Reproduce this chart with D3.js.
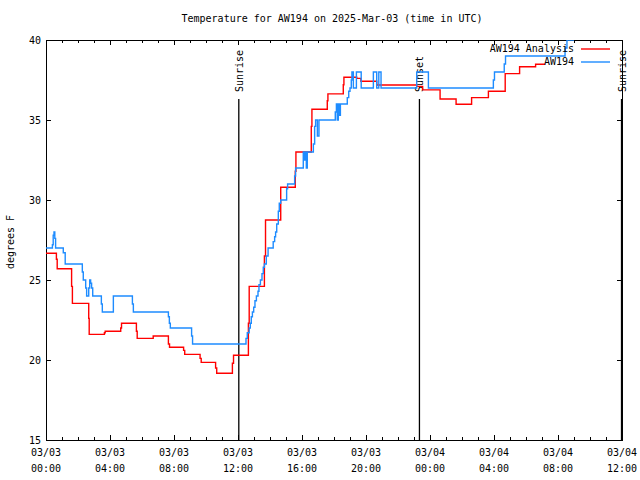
<!DOCTYPE html>
<html>
<head>
<meta charset="utf-8">
<script src="https://cdn.jsdelivr.net/npm/d3@7"></script>
<style>
  html, body { margin: 0; padding: 0; background: #fff; }
  svg text { font-family: "DejaVu Sans Mono", monospace; font-size: 10px; fill: #000; }
</style>
</head>
<body>
<svg id="chart" width="640" height="480"></svg>
<script>
// ---- data (hours since 2025-03-03 00:00 UTC, degrees F) ----
const analysisHours = [0, 0.65, 0.7, 1.6, 1.65, 2.67, 2.7, 3.65, 3.7, 4.67, 4.72, 5.65, 5.7, 6.7,
  7.65, 7.72, 8.6, 8.67, 9.63, 9.7, 10.6, 10.67, 11.65, 11.72, 12.65, 12.7, 13.65, 13.72,
  14.67, 15.58, 15.62, 16.58, 16.62, 17.58, 17.62, 18.58, 18.62, 19.42, 19.68, 20.67,
  23.17, 23.54, 24.63, 25.63, 26.6, 27.65, 28.7, 29.6, 30.6, 31.2];
const analysisTemps = [26.67, 26.3, 25.7, 24.6, 23.54, 22.6, 21.6, 21.7, 21.8, 22.0, 22.3, 21.8, 21.35, 21.5,
  21.0, 20.8, 20.6, 20.35, 20.1, 19.85, 19.5, 19.17, 19.8, 20.3, 22.3, 24.6, 26.5, 28.75,
  30.8, 31.8, 33.0, 34.6, 35.67, 36.2, 36.63, 37.2, 37.67, 37.6, 37.42, 37.19,
  37.1, 36.88, 36.31, 35.98, 36.4, 36.8, 37.9, 38.33, 38.48, 38.48];

const obsHours = [0, 0.4, 0.45, 0.5, 0.55, 0.6, 1.08, 1.2, 2.27, 2.33, 2.48, 2.54, 2.67, 2.73, 2.79,
  2.85, 2.92, 3.46, 3.52, 4.21, 5.4, 5.46, 7.65, 7.71, 7.77, 9.1, 9.16,
  12.5, 12.58, 12.7, 12.77, 12.83, 12.9, 12.98, 13.06, 13.15, 13.25, 13.31, 13.4, 13.5, 13.58,
  13.65, 13.77, 13.88, 14.2, 14.29, 14.35, 14.42, 14.52, 14.58, 14.67, 15.04, 15.1, 15.54, 15.6,
  16.08, 16.15, 16.21, 16.27, 16.33, 16.71, 16.79, 16.85, 16.96, 17.06, 18.08, 18.15, 18.2, 18.27,
  18.33, 18.4, 18.83, 18.92, 19.0, 19.08, 19.12, 19.21, 19.4, 19.7, 20.46, 20.67, 20.8, 20.94,
  23.17, 23.9, 27.96, 28.03, 28.64, 28.72, 32.44, 32.56, 33.0];
const obsTemps = [27, 27.2, 27.8, 28, 27.6, 27, 26.7, 26, 25.5, 25, 24.5, 24, 24.5, 25, 24.8,
  24.5, 24, 23.5, 23, 24, 23.5, 23, 22.7, 22.3, 22, 21.5, 21,
  21.35, 21.7, 22, 22.3, 22.7, 23, 23.3, 23.7, 24, 24.3, 24.7, 25, 25.4, 25.8,
  26, 26.5, 27, 27.4, 27.7, 28, 28.5, 29.3, 29.8, 30, 30.7, 31, 31.5, 32,
  33, 32.5, 33, 32, 33, 33.5, 34.6, 35, 34, 35, 35.5, 36, 35, 36,
  35.3, 36, 36.4, 36.8, 37, 37.5, 38, 37, 38, 37, 38, 37, 38, 37,
  38, 37, 37.5, 38, 38.5, 39, 39.5, 40, 40];

const eventNames = ["Sunrise", "Sunset", "Sunrise"];
const eventHours = [12.05, 23.34, 35.97];

const xTickHours = [0, 4, 8, 12, 16, 20, 24, 28, 32, 36];
const xTickDates = ["03/03", "03/03", "03/03", "03/03", "03/03", "03/03", "03/04", "03/04", "03/04", "03/04"];
const xTickTimes = ["00:00", "04:00", "08:00", "12:00", "16:00", "20:00", "00:00", "04:00", "08:00", "12:00"];
const yTickValues = [15, 20, 25, 30, 35, 40];

const seriesNames = ["AW194 Analysis", "AW194"];
const seriesColors = ["#ff0000", "#1e8cff"];

// ---- layout ----
const svg = d3.select("#chart");
const L = 46, R = 622, T = 40, B = 440;

const x = d3.scaleLinear().domain([0, 36]).range([L, R]);
const y = d3.scaleLinear().domain([15, 40]).range([B, T]);

// title
svg.append("text").attr("x", 332).attr("y", 19).attr("text-anchor", "middle")
  .attr("dominant-baseline", "middle")
  .text("Temperature for AW194 on 2025-Mar-03 (time in UTC)");

// y label
svg.append("text").attr("transform", "translate(11,242) rotate(-90)")
  .attr("text-anchor", "middle").attr("dominant-baseline", "middle").text("degrees F");

// clip
svg.append("clipPath").attr("id", "clip").append("rect")
  .attr("x", L).attr("y", T).attr("width", R - L).attr("height", B - T);

const minorHours = d3.range(0, 37, 1);

// axes (ticks inward)
svg.append("g").attr("transform", `translate(0,${B})`)
  .call(d3.axisBottom(x).tickValues(minorHours).tickSize(-3).tickFormat("").tickSizeOuter(0));
svg.append("g").attr("transform", `translate(0,${B})`)
  .call(d3.axisBottom(x).tickValues(xTickHours).tickSize(-5).tickFormat("").tickSizeOuter(0));
svg.append("g").attr("transform", `translate(0,${T})`)
  .call(d3.axisTop(x).tickValues(minorHours).tickSize(-3).tickFormat("").tickSizeOuter(0));
svg.append("g").attr("transform", `translate(0,${T})`)
  .call(d3.axisTop(x).tickValues(xTickHours).tickSize(-5).tickFormat("").tickSizeOuter(0));
svg.append("g").attr("transform", `translate(${L},0)`)
  .call(d3.axisLeft(y).tickValues(yTickValues).tickSize(-5).tickFormat("").tickSizeOuter(0));
svg.append("g").attr("transform", `translate(${R},0)`)
  .call(d3.axisRight(y).tickValues(yTickValues).tickSize(-5).tickFormat("").tickSizeOuter(0));

svg.selectAll(".domain").remove();
svg.selectAll(".tick line").attr("stroke", "#000").attr("shape-rendering", "crispEdges");

// frame
svg.append("rect").attr("x", L).attr("y", T).attr("width", R - L).attr("height", B - T)
  .attr("fill", "none").attr("stroke", "#000").attr("stroke-width", 1)
  .attr("shape-rendering", "crispEdges");

// y tick labels
svg.append("g").selectAll("text").data(yTickValues).join("text")
  .attr("x", L - 5).attr("y", d => y(d) + 1)
  .attr("text-anchor", "end").attr("dominant-baseline", "middle").text(d => d);

// x tick labels (two lines)
const xl = svg.append("g").selectAll("g").data(xTickHours).join("g");
xl.append("text").attr("x", d => x(d)).attr("y", 453).attr("text-anchor", "middle")
  .attr("dominant-baseline", "middle").text((d, i) => xTickDates[i]);
xl.append("text").attr("x", d => x(d)).attr("y", 469).attr("text-anchor", "middle")
  .attr("dominant-baseline", "middle").text((d, i) => xTickTimes[i]);

// events (sunrise/sunset)
eventHours.forEach((h, i) => {
  svg.append("line").attr("x1", x(h)).attr("x2", x(h)).attr("y1", 99).attr("y2", B)
    .attr("stroke", "#000").attr("stroke-width", 1.3);
  svg.append("text").attr("transform", `translate(${x(h) + 1},92) rotate(-90)`)
    .attr("text-anchor", "start").attr("dominant-baseline", "middle").text(eventNames[i]);
});

// series
const line = d3.line().x(d => x(d[0])).y(d => y(d[1])).curve(d3.curveStepAfter);
const analysis = analysisHours.map((h, i) => [h, analysisTemps[i]]);
const obs = obsHours.map((h, i) => [h, obsTemps[i]]);

const plot = svg.append("g").attr("clip-path", "url(#clip)");
plot.append("path").datum(analysis).attr("d", line).attr("fill", "none")
  .attr("stroke", seriesColors[0]).attr("stroke-width", 1.4);
plot.append("path").datum(obs).attr("d", line).attr("fill", "none")
  .attr("stroke", seriesColors[1]).attr("stroke-width", 1.4);

// legend
const legY = [49, 62];
seriesNames.forEach((n, i) => {
  svg.append("text").attr("x", 574).attr("y", legY[i]).attr("text-anchor", "end")
    .attr("dominant-baseline", "middle").text(n);
  svg.append("line").attr("x1", 581).attr("x2", 610).attr("y1", legY[i]).attr("y2", legY[i])
    .attr("stroke", seriesColors[i]).attr("stroke-width", 1.4);
});
</script>
</body>
</html>
